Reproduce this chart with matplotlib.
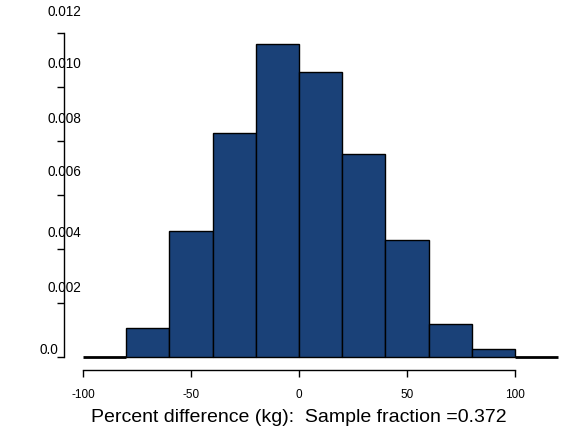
import matplotlib
matplotlib.use("Agg")
import matplotlib.pyplot as plt
from matplotlib import transforms

# histogram: bin edges (kg % difference) and density per bin
bin_edges = [-100, -80, -60, -40, -20, 0, 20, 40, 60, 80, 100, 120]
density = [0.0, 0.00109, 0.00465, 0.00830, 0.01161, 0.01055,
           0.00751, 0.00432, 0.00121, 0.00031, 0.0]

x_ticks = [-100, -50, 0, 50, 100]
y_ticks = [0.0, 0.002, 0.004, 0.006, 0.008, 0.010, 0.012]
y_labels = ["0.0", "0.002", "0.004", "0.006", "0.008", "0.010", "0.012"]
xlabel = "Percent difference (kg):  Sample fraction =0.372"

# label offsets (pixels) as they appear in the original output
y_label_dx = [-15, 0, 0, 0, 0, 0, 0]
y_label_dy = [8, 16, 17, 24, 23, 24, 22]

plt.rcParams["font.family"] = ["Liberation Sans", "DejaVu Sans"]

fig = plt.figure(figsize=(5.62, 4.35), dpi=100)
ax = fig.add_axes([64 / 562, 64 / 435, 498 / 562, 341 / 435])

widths = [b - a for a, b in zip(bin_edges[:-1], bin_edges[1:])]
lws = [2.0 if d == 0 else 1.0 for d in density]
ax.bar(bin_edges[:-1], density, width=widths, align="edge",
       color="#1a4178", edgecolor="black", linewidth=lws)

ax.set_xlim(-108.8, 121.8)
ax.set_ylim(-0.00048, 0.01215)

for side in ("top", "right"):
    ax.spines[side].set_visible(False)
ax.spines["left"].set_bounds(0, 0.012)
ax.spines["bottom"].set_bounds(-100, 100)
ax.spines["left"].set_linewidth(1.0)
ax.spines["bottom"].set_linewidth(1.0)

ax.set_xticks(x_ticks)
ax.set_xticklabels([str(v) for v in x_ticks], fontsize=8.5)
ax.tick_params(axis="x", length=5, width=1, pad=8)

ax.set_yticks(y_ticks)
ax.set_yticklabels([])
ax.tick_params(axis="y", length=5, width=1)

px = 72.0 / fig.dpi
for v, lab, dx, dy in zip(y_ticks, y_labels, y_label_dx, y_label_dy):
    tr = transforms.blended_transform_factory(ax.transAxes, ax.transData)
    off = transforms.ScaledTranslation(dx * px / 72.0, dy * px / 72.0, fig.dpi_scale_trans)
    ax.text(0, v, lab, transform=tr + off, ha="center", va="center", fontsize=9.8)

tr = transforms.blended_transform_factory(ax.transData, fig.transFigure)
ax.text(0, 17 / 435, xlabel, transform=tr, ha="center", va="center", fontsize=14)

fig.savefig("out.png", dpi=100)
